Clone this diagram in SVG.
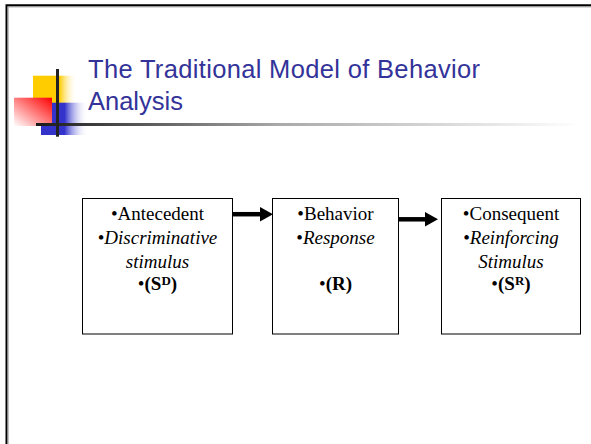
<svg xmlns="http://www.w3.org/2000/svg" width="591" height="444" viewBox="0 0 591 444">
<style>
.box{fill:#fff;stroke:#000;stroke-width:1}
.t{font-family:"Liberation Serif","Times New Roman",serif;font-size:19px;fill:#000;text-anchor:middle}
.i{font-style:italic}
.b{font-weight:bold}
.title{font-family:"Liberation Sans",Arial,sans-serif;font-size:25.5px;fill:#333399}
.conn{stroke:#000;stroke-width:4.5;fill:none}
</style>
<defs>
<linearGradient id="gy" x1="0" y1="0" x2="1" y2="0"><stop offset="0" stop-color="#ffcc00"/><stop offset="0.6" stop-color="#ffcc00"/><stop offset="1" stop-color="#ffffff" stop-opacity="0"/></linearGradient>
<linearGradient id="gb" x1="0" y1="0" x2="1" y2="0"><stop offset="0" stop-color="#3333cc"/><stop offset="0.5" stop-color="#3333cc"/><stop offset="1" stop-color="#ffffff" stop-opacity="0"/></linearGradient>
<linearGradient id="gr" x1="0" y1="1" x2="1" y2="0"><stop offset="0" stop-color="#ffffff"/><stop offset="1" stop-color="#ff0000"/></linearGradient>
<linearGradient id="gl" x1="36" y1="0" x2="580" y2="0" gradientUnits="userSpaceOnUse"><stop offset="0" stop-color="#1a1a1a"/><stop offset="0.45" stop-color="#aaaaaa"/><stop offset="1" stop-color="#ffffff"/></linearGradient>
<marker id="ah" markerUnits="userSpaceOnUse" markerWidth="17" markerHeight="15" refX="0" refY="7.2" orient="auto"><path d="M0,0 L13,7.2 L0,14.4 z" fill="#000"/></marker>
</defs>
<rect width="591" height="444" fill="#fff"/>
<g id="frame">
<path d="M6.5,444 V5.3 H591" fill="none" stroke="#000" stroke-width="2"/>
<path d="M8,444 V6.8 H591" fill="none" stroke="#888" stroke-width="1"/>
</g>
<g id="logo">
<rect x="33" y="75.7" width="44" height="27.8" fill="url(#gy)"/>
<rect x="41" y="102.7" width="47" height="32.3" fill="url(#gb)"/>
<rect x="14" y="97.7" width="38" height="28.3" fill="url(#gr)"/>
<rect x="36" y="123" width="544" height="3" fill="url(#gl)"/>
<rect x="56" y="69" width="3" height="67.7" fill="#222"/>
</g>
<g id="title">
<text class="title" x="88" y="78" textLength="392" lengthAdjust="spacing">The Traditional Model of Behavior</text>
<text class="title" x="88" y="110">Analysis</text>
</g>
<g id="connectors">
<path class="conn" d="M232.5,214.2 H260" marker-end="url(#ah)"/>
<path class="conn" d="M398.5,219.3 H425" marker-end="url(#ah)"/>
</g>
<g id="antecedent">
<rect class="box" x="82.5" y="198.5" width="150" height="135.5"/>
<text class="t" x="157.5" y="219.5">•Antecedent</text>
<text class="t" x="157.5" y="243.5">•<tspan class="i">Discriminative</tspan></text>
<text class="t i" x="157.5" y="267.5">stimulus</text>
<text class="t" x="157.5" y="289.5">•<tspan class="b">(S<tspan font-size="13" dy="-5">D</tspan><tspan dy="5">)</tspan></tspan></text>
</g>
<g id="behavior">
<rect class="box" x="272.5" y="198.5" width="126" height="135.5"/>
<text class="t" x="335.5" y="219.5">•Behavior</text>
<text class="t" x="335.5" y="243.5">•<tspan class="i">Response</tspan></text>
<text class="t" x="335.5" y="289.5">•<tspan class="b">(R)</tspan></text>
</g>
<g id="consequent">
<rect class="box" x="441.5" y="198.5" width="139" height="135.5"/>
<text class="t" x="511" y="219.5">•Consequent</text>
<text class="t" x="511" y="243.5">•<tspan class="i">Reinforcing</tspan></text>
<text class="t i" x="511" y="267.5">Stimulus</text>
<text class="t" x="511" y="289.5">•<tspan class="b">(S<tspan font-size="13" dy="-5">R</tspan><tspan dy="5">)</tspan></tspan></text>
</g>
</svg>
